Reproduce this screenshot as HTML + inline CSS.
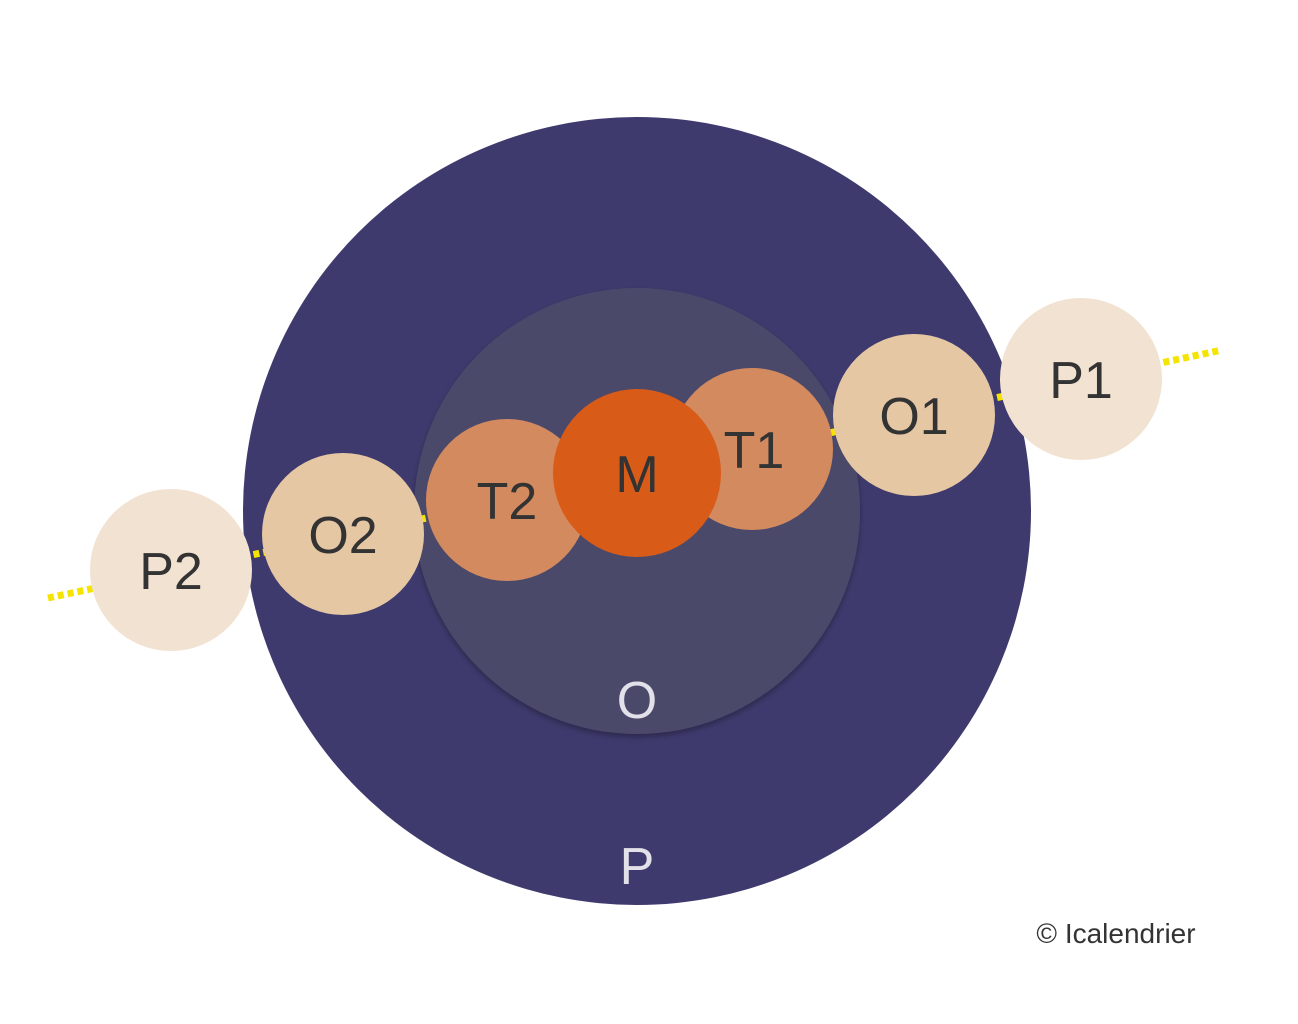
<!DOCTYPE html>
<html><head><meta charset="utf-8"><style>
html,body{margin:0;padding:0;background:#fff;}
svg{display:block;}
text{font-family:"Liberation Sans",sans-serif;text-anchor:middle;}
</style></head><body>
<svg width="1298" height="1024" viewBox="0 0 1298 1024" xmlns="http://www.w3.org/2000/svg">
<defs>
<filter id="sh" x="-10%" y="-10%" width="120%" height="120%"><feDropShadow dx="0" dy="3" stdDeviation="3" flood-color="#000" flood-opacity="0.3"/></filter>
</defs>
<rect width="1298" height="1024" fill="#fff"/>
<circle cx="637" cy="511" r="394" fill="#3e3a6d"/>
<circle cx="637" cy="511" r="223" fill="#4b4a6b" filter="url(#sh)"/>
<line x1="48" y1="598" x2="1222" y2="350" stroke="#f5e400" stroke-width="7" stroke-dasharray="6,4"/>
<circle cx="171" cy="570" r="81" fill="#f2e2d2"/>
<circle cx="1081" cy="379" r="81" fill="#f2e2d2"/>
<circle cx="343" cy="534" r="81" fill="#e6c7a4"/>
<circle cx="914" cy="415" r="81" fill="#e6c7a4"/>
<circle cx="752" cy="449" r="81" fill="#d38a5f"/>
<circle cx="507" cy="500" r="81" fill="#d38a5f"/>
<circle cx="637" cy="473" r="84" fill="#d95b18"/>
<g fill="#333" font-size="52">
<text x="171" y="589">P2</text>
<text x="1081" y="398">P1</text>
<text x="343" y="553">O2</text>
<text x="914" y="434">O1</text>
<text x="754" y="468">T1</text>
<text x="507" y="519">T2</text>
<text x="637" y="492">M</text>
</g>
<text x="637" y="718" font-size="52" fill="#e2e1ea">O</text>
<text x="637" y="884" font-size="52" fill="#e2e1ea">P</text>
<text x="1116" y="943" font-size="28" fill="#333">© Icalendrier</text>
</svg>
</body></html>
